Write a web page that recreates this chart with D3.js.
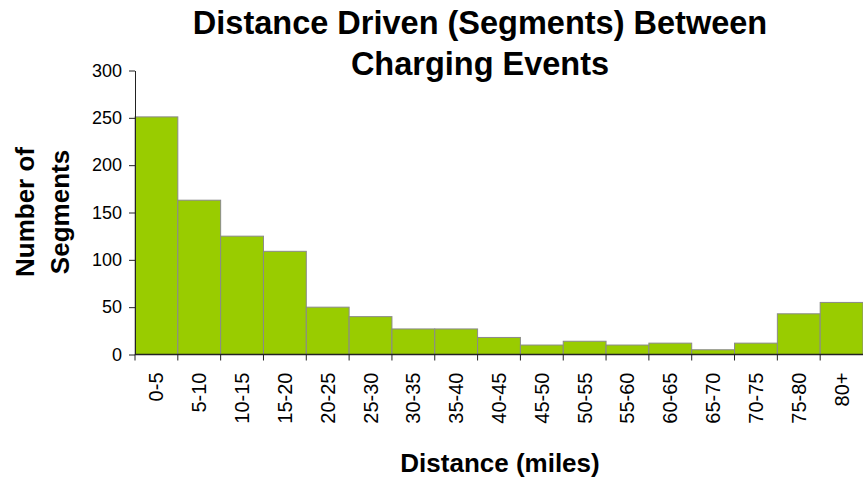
<!DOCTYPE html>
<html>
<head>
<meta charset="utf-8">
<script src="https://cdn.jsdelivr.net/npm/d3@7"></script>
<style>
  html, body { margin: 0; padding: 0; background: #fff; }
  svg { display: block; font-family: "Liberation Sans", Arial, sans-serif; }
</style>
</head>
<body>
<svg id="chart" width="863" height="479"></svg>
<script>
// Distance bins (miles) and number of driving segments in each bin
const bins = ["0-5", "5-10", "10-15", "15-20", "20-25", "25-30", "30-35", "35-40", "40-45",
              "45-50", "50-55", "55-60", "60-65", "65-70", "70-75", "75-80", "80+"];
const segments = [251, 163, 125, 109, 50, 40, 27, 27, 18, 10, 14, 10, 12, 5, 12, 43, 55];
const yTicks = [0, 50, 100, 150, 200, 250, 300];

const svg = d3.select("#chart");
const plot = { left: 135, right: 863, top: 70.5, bottom: 354.5 };

const x = d3.scaleBand().domain(bins).range([plot.left, plot.right]).padding(0);
const y = d3.scaleLinear().domain([0, 300]).range([plot.bottom, plot.top]);

// Bars
svg.append("g")
  .selectAll("rect")
  .data(bins.map((b, i) => ({ bin: b, value: segments[i] })))
  .join("rect")
  .attr("x", d => x(d.bin))
  .attr("y", d => y(d.value))
  .attr("width", x.bandwidth())
  .attr("height", d => y(0) - y(d.value))
  .attr("fill", "#99cc00")
  .attr("stroke", "#8a8a8a")
  .attr("stroke-width", 1);

// Y axis
const yAxis = svg.append("g")
  .attr("transform", `translate(${plot.left},0)`)
  .call(d3.axisLeft(y).tickValues(yTicks).tickSize(6).tickPadding(7).tickSizeOuter(0));
yAxis.select(".domain").attr("stroke", "#222");
yAxis.selectAll(".tick line").attr("stroke", "#222");
yAxis.selectAll(".tick text")
  .attr("font-size", 18)
  .attr("fill", "#000")
  .attr("font-family", "Liberation Sans, Arial, sans-serif");

// X axis: ticks at bin boundaries, labels rotated at bin centres
const xg = svg.append("g").attr("transform", `translate(0,${plot.bottom})`);
xg.append("line")
  .attr("x1", plot.left).attr("x2", plot.right)
  .attr("stroke", "#222").attr("stroke-width", 1.5);
xg.selectAll("line.edge")
  .data(bins.map(b => x(b)))
  .join("line")
  .attr("class", "edge")
  .attr("x1", d => d).attr("x2", d => d)
  .attr("y1", 0).attr("y2", 6)
  .attr("stroke", "#222");
xg.selectAll("text")
  .data(bins)
  .join("text")
  .attr("transform", d => `translate(${x(d) + x.bandwidth() / 2},18) rotate(-90)`)
  .attr("text-anchor", "end")
  .attr("dy", "0.35em")
  .attr("font-size", 20)
  .attr("fill", "#000")
  .text(d => d);

// Title
const title = svg.append("text")
  .attr("text-anchor", "middle")
  .attr("font-weight", "bold")
  .attr("font-size", 32.5)
  .attr("fill", "#000");
title.append("tspan").attr("x", 480).attr("y", 34).text("Distance Driven (Segments) Between");
title.append("tspan").attr("x", 480).attr("y", 75).text("Charging Events");

// Y axis title
const yTitle = svg.append("text")
  .attr("transform", "translate(0,212) rotate(-90)")
  .attr("text-anchor", "middle")
  .attr("font-weight", "bold")
  .attr("font-size", 26)
  .attr("fill", "#000");
yTitle.append("tspan").attr("x", 0).attr("y", 34).text("Number of");
yTitle.append("tspan").attr("x", 0).attr("y", 69).text("Segments");

// X axis title
svg.append("text")
  .attr("x", 500).attr("y", 472)
  .attr("text-anchor", "middle")
  .attr("font-weight", "bold")
  .attr("font-size", 26)
  .attr("fill", "#000")
  .text("Distance (miles)");
</script>
</body>
</html>
